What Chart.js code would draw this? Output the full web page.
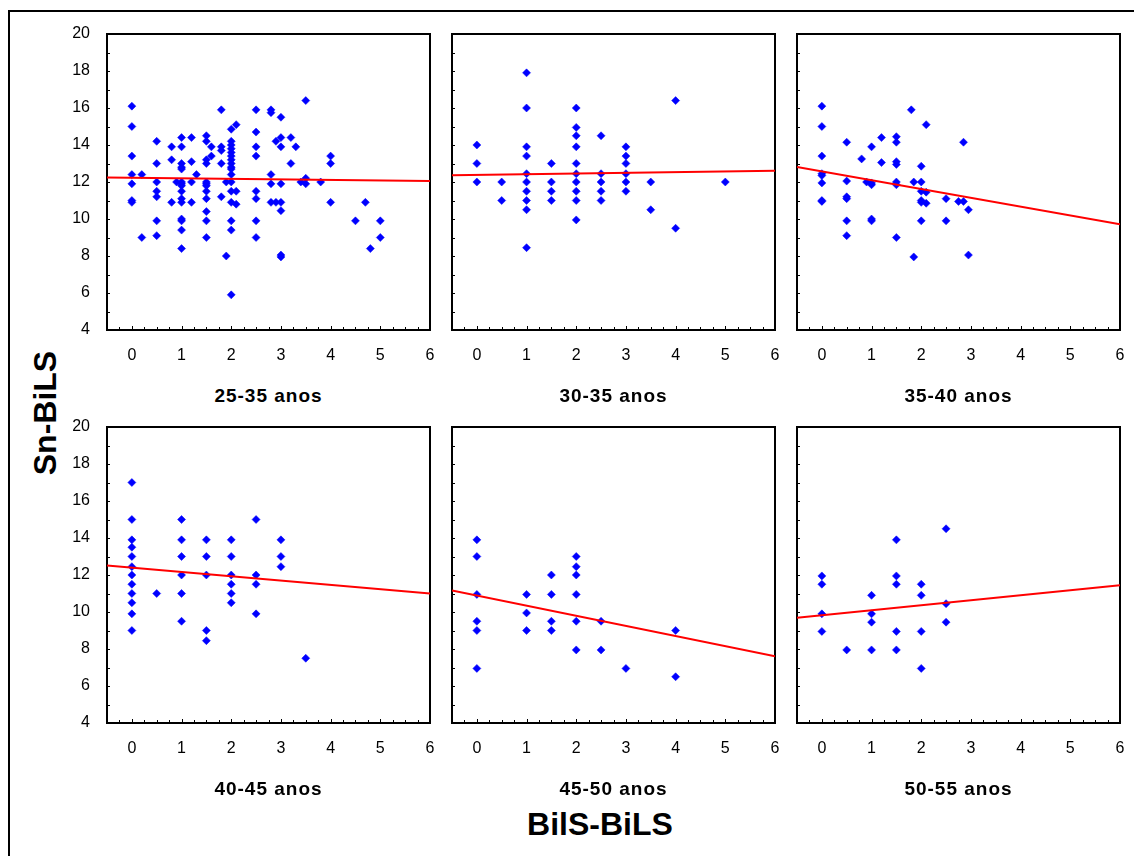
<!DOCTYPE html>
<html>
<head>
<meta charset="utf-8">
<script src="https://cdn.jsdelivr.net/npm/chart.js@4.4.1/dist/chart.umd.min.js"></script>
<style>
  body { margin: 0; background: #fff; width: 1134px; height: 856px; overflow: hidden; position: relative;
         font-family: "Liberation Sans", Arial, sans-serif; color: #000; }
  #frame { position: absolute; left: 8px; top: 10px; width: 1140px; height: 870px; border: 2px solid #000; box-sizing: border-box; }
  canvas { position: absolute; }
  .ptitle { position: absolute; width: 323px; text-align: center; font-weight: bold; font-size: 19px; letter-spacing: 1px; }
  .bigtitle { position: absolute; font-weight: bold; font-size: 32px; white-space: nowrap; }
  #ytitle { left: 45px; top: 413px; transform: translate(-50%, -50%) rotate(-90deg); }
  #xtitle { left: 600px; top: 824px; transform: translate(-50%, -50%); }
</style>
</head>
<body>
<div id="frame"></div>
<div id="ytitle" class="bigtitle">Sn-BiLS</div>
<div id="xtitle" class="bigtitle">BilS-BiLS</div>
<script>
// faixas etarias (uma por painel)
const panelTitles = ['25-35 anos', '30-35 anos', '35-40 anos', '40-45 anos', '45-50 anos', '50-55 anos'];
const xTicks = [0, 1, 2, 3, 4, 5, 6];
const yTicks = [4, 6, 8, 10, 12, 14, 16, 18, 20];
const fitX = [-0.5, 6];

// 25-35 anos
const bils1 = [
  0, 0, 0, 0, 0, 0, 0,
  0.2, 0.2,
  0.5, 0.5, 0.5, 0.5, 0.5, 0.5, 0.5,
  0.8, 0.8, 0.8,
  0.9,
  1, 1, 1, 1, 1, 1, 1, 1, 1, 1, 1, 1, 1, 1, 1,
  1.2, 1.2, 1.2, 1.2,
  1.3,
  1.5, 1.5, 1.5, 1.5, 1.5, 1.5, 1.5, 1.5, 1.5, 1.5, 1.5, 1.5,
  1.6, 1.6,
  1.8, 1.8, 1.8, 1.8, 1.8,
  1.9, 1.9,
  2, 2, 2, 2, 2, 2, 2, 2, 2, 2, 2, 2, 2, 2, 2, 2, 2,
  2.1, 2.1, 2.1,
  2.5, 2.5, 2.5, 2.5, 2.5, 2.5, 2.5, 2.5,
  2.8, 2.8, 2.8, 2.8, 2.8,
  2.9, 2.9,
  3, 3, 3, 3, 3, 3, 3, 3,
  3.2, 3.2,
  3.3,
  3.4,
  3.5, 3.5, 3.5,
  3.8,
  4, 4, 4,
  4.5,
  4.7,
  4.8,
  5, 5
];
const sn1 = [
  16.1, 15.0, 13.4, 12.4, 11.9, 11.0, 10.9,
  12.4, 9.0,
  14.2, 13.0, 12.0, 11.5, 11.2, 9.9, 9.1,
  13.9, 13.2, 10.9,
  12.0,
  14.4, 13.9, 13.0, 12.8, 12.7, 12.0, 11.9, 11.8, 11.5, 11.1, 10.9, 10.0, 9.9, 9.4, 8.4,
  14.4, 13.1, 12.0, 10.9,
  12.4,
  14.5, 14.2, 13.2, 13.0, 12.0, 11.9, 11.8, 11.5, 11.1, 10.4, 9.9, 9.0,
  13.9, 13.4,
  15.9, 13.9, 13.7, 13.0, 11.2,
  12.0, 8.0,
  14.85, 14.2, 14.0, 13.8, 13.6, 13.4, 13.2, 13.0, 12.8, 12.7, 12.4, 12.0, 11.5, 10.9, 9.9, 9.4, 5.9,
  15.1, 11.5, 10.8,
  15.9, 14.7, 13.9, 13.4, 11.5, 11.1, 9.9, 9.0,
  15.9, 15.75, 12.4, 11.9, 10.9,
  14.2, 10.9,
  15.5, 14.4, 13.9, 11.9, 10.9, 10.45, 8.05, 7.95,
  14.4, 13.0,
  13.9,
  12.0,
  16.4, 12.2, 11.9,
  12.0,
  13.4, 13.0, 10.9,
  9.9,
  10.9,
  8.4,
  9.9, 9.0
];
const fit1 = [12.25, 12.05];

// 30-35 anos
const bils2 = [
  0, 0, 0,
  0.5, 0.5,
  1, 1, 1, 1, 1, 1, 1, 1, 1, 1,
  1.5, 1.5, 1.5, 1.5,
  2, 2, 2, 2, 2, 2, 2, 2, 2, 2,
  2.5, 2.5, 2.5, 2.5, 2.5,
  3, 3, 3, 3, 3, 3,
  3.5, 3.5,
  4, 4,
  5
];
const sn2 = [
  14.0, 13.0, 12.0,
  12.0, 11.0,
  17.9, 16.0, 13.9, 13.4, 12.45, 12.0, 11.5, 11.0, 10.5, 8.45,
  13.0, 12.0, 11.5, 11.0,
  16.0, 14.95, 14.5, 13.9, 13.0, 12.45, 12.0, 11.5, 11.0, 9.95,
  14.5, 12.45, 12.0, 11.5, 11.0,
  13.9, 13.4, 13.0, 12.45, 12.0, 11.5,
  12.0, 10.5,
  16.4, 9.5,
  12.0
];
const fit2 = [12.36, 12.61];

// 35-40 anos
const bils3 = [
  0, 0, 0, 0, 0, 0, 0, 0,
  0.5, 0.5, 0.5, 0.5, 0.5, 0.5,
  0.8,
  0.9,
  1, 1, 1, 1, 1,
  1.2, 1.2,
  1.5, 1.5, 1.5, 1.5, 1.5, 1.5, 1.5,
  1.8,
  1.85, 1.85,
  2, 2, 2, 2, 2, 2,
  2.1, 2.1, 2.1,
  2.5, 2.5,
  2.75,
  2.85, 2.85,
  2.95, 2.95
];
const sn3 = [
  16.1, 15.0, 13.4, 12.45, 12.35, 11.95, 11.0, 10.95,
  14.15, 12.05, 11.2, 11.1, 9.9, 9.1,
  13.25,
  12.0,
  13.9, 11.95, 11.85, 10.0, 9.9,
  14.4, 13.05,
  14.45, 14.15, 13.1, 12.95, 12.0, 11.85, 9.0,
  15.9,
  12.0, 7.95,
  12.85, 12.0, 11.5, 11.0, 10.9, 9.9,
  15.1, 11.45, 10.85,
  11.1, 9.9,
  10.95,
  14.15, 10.95,
  10.5, 8.05
];
const fit3 = [12.81, 9.71];

// 40-45 anos
const bils4 = [
  0, 0, 0, 0, 0, 0, 0, 0, 0, 0, 0, 0,
  0.5,
  1, 1, 1, 1, 1, 1,
  1.5, 1.5, 1.5, 1.5, 1.5,
  2, 2, 2, 2, 2, 2,
  2.5, 2.5, 2.5, 2.5,
  3, 3, 3,
  3.5
];
const sn4 = [
  17.0, 15.0, 13.9, 13.5, 13.0, 12.45, 12.0, 11.5, 11.0, 10.5, 9.9, 9.0,
  11.0,
  15.0, 13.9, 13.0, 12.0, 11.0, 9.5,
  13.9, 13.0, 12.0, 9.0, 8.45,
  13.9, 13.0, 12.0, 11.5, 11.0, 10.5,
  15.0, 12.0, 11.5, 9.9,
  13.9, 13.0, 12.45,
  7.5
];
const fit4 = [12.52, 11.0];

// 45-50 anos
const bils5 = [
  0, 0, 0, 0, 0, 0,
  1, 1, 1,
  1.5, 1.5, 1.5, 1.5,
  2, 2, 2, 2, 2, 2,
  2.5, 2.5,
  3,
  4, 4
];
const sn5 = [
  13.9, 13.0, 10.95, 9.5, 9.0, 6.95,
  10.95, 9.95, 9.0,
  12.0, 10.95, 9.5, 9.0,
  13.0, 12.45, 12.0, 10.95, 9.5, 7.95,
  9.5, 7.95,
  6.95,
  9.0, 6.5
];
const fit5 = [11.16, 7.61];

// 50-55 anos
const bils6 = [
  0, 0, 0, 0,
  0.5,
  1, 1, 1, 1,
  1.5, 1.5, 1.5, 1.5, 1.5,
  2, 2, 2, 2,
  2.5, 2.5, 2.5
];
const sn6 = [
  11.95, 11.5, 9.9, 8.95,
  7.95,
  10.9, 9.9, 9.45, 7.95,
  13.9, 11.95, 11.5, 8.95, 7.95,
  11.5, 10.9, 8.95, 6.95,
  14.5, 10.45, 9.45
];
const fit6 = [9.69, 11.44];

const painel = [
  { x: bils1, y: sn1, fit: fit1 },
  { x: bils2, y: sn2, fit: fit2 },
  { x: bils3, y: sn3, fit: fit3 },
  { x: bils4, y: sn4, fit: fit4 },
  { x: bils5, y: sn5, fit: fit5 },
  { x: bils6, y: sn6, fit: fit6 }
];

// geometria dos paineis
const plotLefts = [107, 452, 797];
const plotTops = [34, 427];
const PLOT_W = 323, PLOT_H = 296;
const AX_W = 70, AX_H = 40, PAD = 24;
const FONT = '"Liberation Sans", Arial, sans-serif';

// moldura + tracinhos para dentro
const moldura = {
  id: 'moldura',
  beforeDatasetsDraw(chart) {
    const { ctx, chartArea: a, scales } = chart;
    ctx.save();
    ctx.strokeStyle = '#000';
    ctx.lineWidth = 1;
    ctx.beginPath();
    for (let v = -0.5; v <= 6.001; v += 0.25) {
      const px = Math.round(scales.x.getPixelForValue(v)) + 0.5;
      const len = Number.isInteger(v) ? 4 : 3;
      ctx.moveTo(px, a.bottom);
      ctx.lineTo(px, a.bottom - len);
    }
    for (let v = 4; v <= 20; v += 1) {
      const py = Math.round(scales.y.getPixelForValue(v)) + 0.5;
      ctx.moveTo(a.left, py);
      ctx.lineTo(a.left + 3, py);
    }
    ctx.stroke();
    ctx.lineWidth = 2;
    ctx.strokeRect(a.left, a.top, a.right - a.left, a.bottom - a.top);
    ctx.restore();
  }
};

function desenharPainel(i) {
  const col = i % 3, row = Math.floor(i / 3);
  const p = painel[i];
  const cv = document.createElement('canvas');
  const w = AX_W + PLOT_W + PAD, h = PAD + PLOT_H + AX_H;
  cv.width = w; cv.height = h;
  cv.style.left = (plotLefts[col] - AX_W) + 'px';
  cv.style.top = (plotTops[row] - PAD) + 'px';
  cv.style.width = w + 'px'; cv.style.height = h + 'px';
  document.body.appendChild(cv);

  const t = document.createElement('div');
  t.className = 'ptitle';
  t.textContent = panelTitles[i];
  t.style.left = plotLefts[col] + 'px';
  t.style.top = (plotTops[row] + PLOT_H + 55) + 'px';
  document.body.appendChild(t);

  new Chart(cv, {
    type: 'scatter',
    data: {
      datasets: [
        {
          type: 'line',
          data: fitX.map((v, k) => ({ x: v, y: p.fit[k] })),
          borderColor: '#ff0000',
          borderWidth: 2,
          pointRadius: 0,
          order: 0
        },
        {
          data: p.x.map((v, k) => ({ x: v, y: p.y[k] })),
          pointStyle: 'rectRot',
          pointRadius: 4,
          backgroundColor: '#0000ff',
          borderColor: '#0000ff',
          borderWidth: 0.5,
          order: 1
        }
      ]
    },
    options: {
      responsive: false,
      animation: false,
      devicePixelRatio: 1,
      layout: { padding: { top: PAD, right: PAD, left: 0, bottom: 0 } },
      plugins: { legend: { display: false }, tooltip: { enabled: false } },
      scales: {
        x: {
          type: 'linear', position: 'bottom', min: -0.5, max: 6,
          grid: { display: false }, border: { display: false },
          ticks: { color: '#000', padding: 8, font: { family: FONT, size: 16 } },
          afterBuildTicks: s => { s.ticks = xTicks.map(v => ({ value: v })); },
          afterFit: s => { s.height = AX_H; }
        },
        y: {
          type: 'linear', min: 4, max: 20,
          grid: { display: false }, border: { display: false },
          ticks: { display: col === 0, color: '#000', padding: 9, font: { family: FONT, size: 16 } },
          afterBuildTicks: s => { s.ticks = yTicks.map(v => ({ value: v })); },
          afterFit: s => { s.width = AX_W; }
        }
      }
    },
    plugins: [moldura]
  });
}

for (let i = 0; i < 6; i++) desenharPainel(i);
</script>
</body>
</html>
